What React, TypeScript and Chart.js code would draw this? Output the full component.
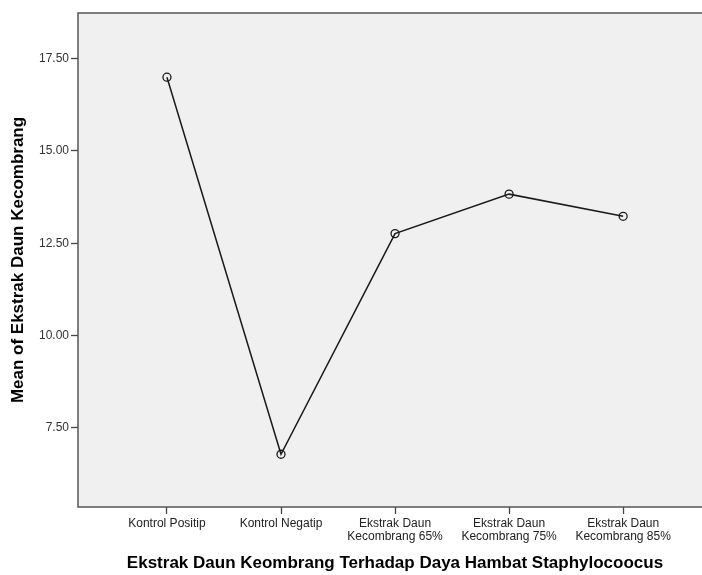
import React, { useEffect, useRef } from "react";
import { Chart, registerables } from "chart.js";

Chart.register(...registerables);

const categories: (string | string[])[] = [
  "Kontrol Positip",
  "Kontrol Negatip",
  ["Ekstrak Daun", "Kecombrang 65%"],
  ["Ekstrak Daun", "Kecombrang 75%"],
  ["Ekstrak Daun", "Kecombrang 85%"],
];
const meanValues: number[] = [17.0, 6.78, 12.76, 13.83, 13.23];
const yTicks: number[] = [7.5, 10.0, 12.5, 15.0, 17.5];
const xTitle = "Ekstrak Daun Keombrang Terhadap Daya Hambat Staphylocoocus";
const yTitle = "Mean of Ekstrak Daun Kecombrang";

const FONT = "Arial, 'Liberation Sans', sans-serif";

const framePlugin = {
  id: "frame",
  beforeDraw(chart: any) {
    const { ctx, chartArea } = chart;
    ctx.save();
    ctx.fillStyle = "#f0f0f0";
    ctx.fillRect(chartArea.left, chartArea.top, chart.width - chartArea.left, chartArea.bottom - chartArea.top);
    ctx.restore();
  },
  afterDraw(chart: any) {
    const { ctx, chartArea } = chart;
    ctx.save();
    ctx.strokeStyle = "#555555";
    ctx.lineWidth = 1.5;
    ctx.beginPath();
    ctx.moveTo(chart.width, chartArea.bottom);
    ctx.lineTo(chartArea.left, chartArea.bottom);
    ctx.lineTo(chartArea.left, chartArea.top);
    ctx.lineTo(chart.width, chartArea.top);
    ctx.stroke();
    // x axis title, centred on the full (cropped) plot frame
    ctx.fillStyle = "#000000";
    ctx.font = `bold 17px ${FONT}`;
    ctx.textAlign = "center";
    ctx.textBaseline = "middle";
    ctx.fillText(xTitle, (chartArea.left + chart.width + 10) / 2, chart.height - 12);
    ctx.restore();
  },
};

export default function App() {
  const ref = useRef<HTMLCanvasElement | null>(null);
  useEffect(() => {
    if (!ref.current) return;
    const chart = new Chart(ref.current, {
      type: "line",
      data: {
        datasets: [
          {
            data: meanValues.map((v, i) => ({ x: i, y: v })),
            borderColor: "#1a1a1a",
            borderWidth: 1.5,
            pointRadius: 4,
            pointBorderWidth: 1.3,
            pointBorderColor: "#1a1a1a",
            pointBackgroundColor: "rgba(0,0,0,0)",
            tension: 0,
            clip: false,
          },
        ],
      },
      options: {
        animation: false,
        responsive: false,
        devicePixelRatio: 1,
        layout: { padding: { top: 13, left: 0, right: 0, bottom: 0 } },
        plugins: { legend: { display: false }, tooltip: { enabled: false } },
        scales: {
          x: {
            type: "linear",
            min: -0.78,
            max: 4.645,
            afterBuildTicks: (scale: any) => {
              scale.ticks = categories.map((_, i) => ({ value: i }));
            },
            afterFit: (scale: any) => {
              scale.height = 68;
              scale.paddingLeft = 0;
              scale.paddingRight = 0;
            },
            border: { display: false },
            grid: { drawOnChartArea: false, tickLength: 7, color: "#444444", tickWidth: 1.3 },
            ticks: {
              autoSkip: false,
              maxRotation: 0,
              padding: 3,
              color: "#222222",
              font: { family: FONT, size: 12, lineHeight: 1.1 },
              callback: (v: any) => categories[Math.round(Number(v))] ?? "",
            },
            title: { display: false },
          },
          y: {
            type: "linear",
            min: 5.35,
            max: 18.74,
            afterBuildTicks: (scale: any) => {
              scale.ticks = yTicks.map((v) => ({ value: v }));
            },
            afterFit: (scale: any) => {
              scale.width = 78;
              scale.paddingTop = 0;
              scale.paddingBottom = 0;
            },
            border: { display: false },
            grid: { drawOnChartArea: false, tickLength: 7, color: "#444444", tickWidth: 1.3 },
            ticks: {
              padding: 2,
              color: "#333333",
              font: { family: FONT, size: 12 },
              callback: (v: any) => Number(v).toFixed(2),
            },
            title: {
              display: true,
              text: yTitle,
              color: "#000000",
              font: { family: FONT, size: 17, weight: "bold" },
              padding: { top: 8, bottom: 0 },
            },
          },
        },
      },
      plugins: [framePlugin],
    } as any);
    return () => chart.destroy();
  }, []);
  return (
    <div style={{ position: "fixed", left: 0, top: 0, width: 702, height: 575, background: "#ffffff" }}>
      <canvas ref={ref} width={702} height={575} style={{ width: 702, height: 575, display: "block" }} />
    </div>
  );
}
